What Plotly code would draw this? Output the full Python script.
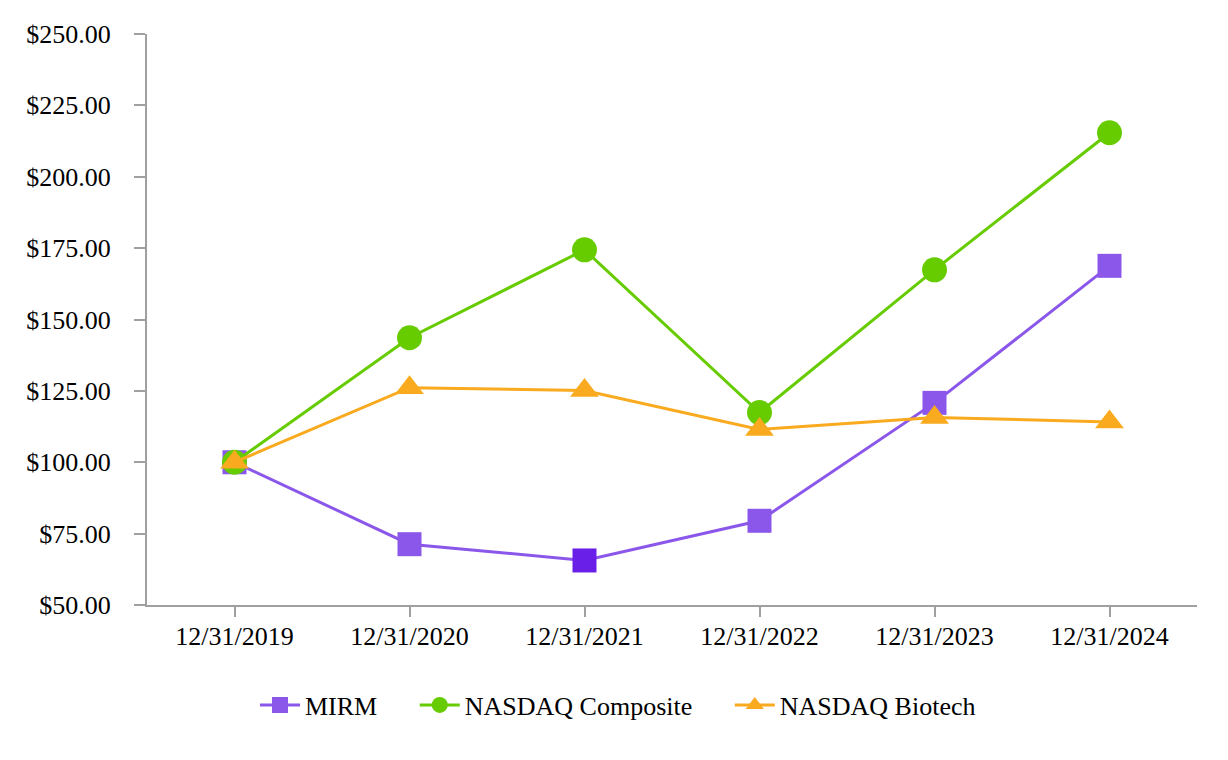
import plotly.graph_objects as go

dates = ["12/31/2019", "12/31/2020", "12/31/2021", "12/31/2022", "12/31/2023", "12/31/2024"]
mirm = [100.0, 71.3, 65.6, 79.5, 120.8, 168.8]
nasdaq_comp = [100.0, 143.6, 174.4, 117.4, 167.4, 215.4]
nasdaq_bio = [100.0, 126.1, 125.1, 111.5, 115.7, 114.1]
y_ticks = [50, 75, 100, 125, 150, 175, 200, 225, 250]

purple = "#8B57EA"
purple_dark = "#6A1FE8"
green = "#66CC00"
orange = "#F9AA1F"

pad = "&nbsp;" * 5

fig = go.Figure()
mirm_colors = [purple] * len(dates)
mirm_colors[2] = purple_dark
fig.add_trace(go.Scatter(x=dates, y=mirm, name="MIRM" + pad, mode="lines+markers",
                         line=dict(color=purple, width=3),
                         marker=dict(symbol="square", size=24, color=mirm_colors)))
fig.add_trace(go.Scatter(x=dates, y=nasdaq_comp, name="NASDAQ Composite" + pad, mode="lines+markers",
                         line=dict(color=green, width=3),
                         marker=dict(symbol="circle", size=25, color=green)))
fig.add_trace(go.Scatter(x=dates, y=nasdaq_bio, name="NASDAQ Biotech", mode="lines+markers",
                         line=dict(color=orange, width=3),
                         marker=dict(symbol="triangle-up", size=25, color=orange)))

fig.update_layout(
    width=1220, height=752,
    margin=dict(l=139, r=31, t=22, b=155),
    paper_bgcolor="white", plot_bgcolor="white",
    font=dict(family="Liberation Serif", size=26, color="black"),
    showlegend=True,
    legend=dict(orientation="h", xref="container", yref="container",
                x=0.5, xanchor="center", y=(752 - 697) / 752, yanchor="middle",
                font=dict(size=26), itemwidth=40),
)
fig.update_xaxes(type="category", range=[-0.5, 5.5], showline=True, linecolor="#a0a0a0",
                 linewidth=2, ticks="outside", ticklen=10, tickcolor="#a0a0a0", tickwidth=2,
                 showgrid=False, zeroline=False, ticklabelstandoff=-3)
fig.update_yaxes(range=[50, 250], tickvals=y_ticks,
                 ticktext=[f"${v:.2f}" for v in y_ticks],
                 showline=True, linecolor="#a0a0a0", linewidth=2, ticks="outside",
                 ticklen=11, tickcolor="#a0a0a0", tickwidth=2,
                 showgrid=False, zeroline=False, ticklabelstandoff=18)

fig.write_html("out.html")
